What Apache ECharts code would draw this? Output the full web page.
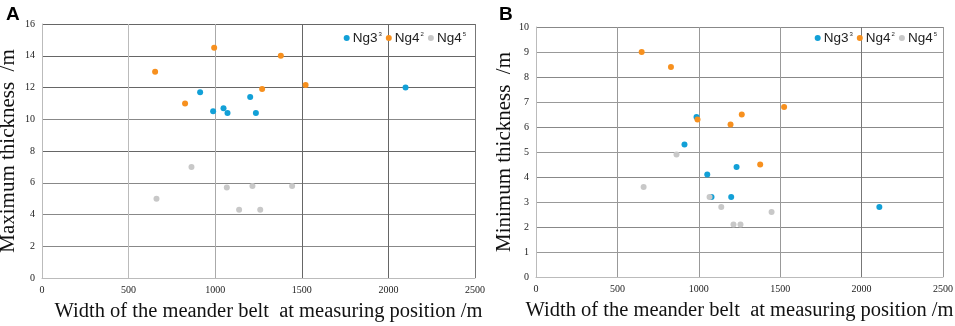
<!DOCTYPE html>
<html>
<head>
<meta charset="utf-8">
<script src="https://cdn.jsdelivr.net/npm/echarts@6/dist/echarts.min.js"></script>
<style>
html,body{margin:0;padding:0;background:#fff;}
#c{width:955px;height:326px;}
</style>
</head>
<body>
<div id="c"></div>
<script>
// ---- Data (width of meander belt /m, thickness /m) ----
var seriesNames = ['Ng3³', 'Ng4²', 'Ng4⁵'];

// Panel A: maximum thickness
var maxNg33 = [[913, 11.7], [988, 10.5], [1048, 10.7], [1071, 10.4], [1202, 11.4], [1235, 10.4], [2099, 12.0]];
var maxNg42 = [[653, 13.0], [826, 11.0], [994, 14.5], [1271, 11.9], [1379, 14.0], [1522, 12.15]];
var maxNg45 = [[661, 5.0], [863, 7.0], [1067, 5.7], [1138, 4.3], [1215, 5.8], [1260, 4.3], [1444, 5.8]];

// Panel B: minimum thickness
var minNg33 = [[986, 6.4], [912, 5.3], [1052, 4.1], [1078, 3.2], [1199, 3.2], [1232, 4.4], [2109, 2.8]];
var minNg42 = [[649, 9.0], [829, 8.4], [992, 6.3], [1195, 6.1], [1264, 6.5], [1377, 4.5], [1524, 6.8]];
var minNg45 = [[661, 3.6], [863, 4.9], [1066, 3.2], [1138, 2.8], [1213, 2.1], [1256, 2.1], [1447, 2.6]];

var xTicks = [0, 500, 1000, 1500, 2000, 2500];
var yTicksA = [0, 2, 4, 6, 8, 10, 12, 14, 16];
var yTicksB = [0, 1, 2, 3, 4, 5, 6, 7, 8, 9, 10];

var xTitle = 'Width of the meander belt  at measuring position /m';
var yTitleA = 'Maximum thickness  /m';
var yTitleB = 'Minimum thickness  /m';

var colors = ['#12a0d7', '#f7901e', '#c8c8c8'];

var chart = echarts.init(document.getElementById('c'), null, {renderer: 'canvas'});

var serif = '"Liberation Serif", "Times New Roman", serif';
var sans = '"Liberation Sans", Arial, sans-serif';

function xAxis(gi) {
  return {
    type: 'value', gridIndex: gi, min: xTicks[0], max: xTicks[xTicks.length - 1], interval: 500,
    name: xTitle, nameLocation: 'middle', nameGap: 23,
    nameTextStyle: {fontFamily: serif, fontSize: 20.5, color: '#111', padding: gi === 0 ? [0, 0, 0, 20] : [0, 0, 0, 0]},
    axisLine: {show: true, lineStyle: {color: '#bbbbbb', width: 1}},
    axisTick: {show: false},
    axisLabel: {fontFamily: serif, fontSize: 10, color: '#222', margin: 7, formatter: function (v) { return String(v); }},
    splitLine: {show: true, lineStyle: {color: gi === 0 ? ['#bbbbbb', '#bbbbbb', '#aaaaaa', '#666666', '#666666', '#777777'] : ['#bbbbbb', '#999999', '#999999', '#999999', '#777777', '#999999'], width: 1}}
  };
}
function yAxis(gi, max, interval, title, gap) {
  return {
    type: 'value', gridIndex: gi, min: 0, max: max, interval: interval,
    name: title, nameLocation: 'middle', nameGap: gap,
    nameTextStyle: {fontFamily: serif, fontSize: 21, color: '#111'},
    axisLine: {show: true, lineStyle: {color: '#bbbbbb', width: 1}},
    axisTick: {show: false},
    axisLabel: {fontFamily: serif, fontSize: 10, color: '#222', margin: 7},
    splitLine: {show: true, lineStyle: {color: gi === 0 ? ['#bbbbbb', '#888888', '#888888', '#888888', '#666666', '#888888', '#666666', '#666666', '#666666'] : ['#bbbbbb', '#999999', '#888888', '#999999', '#888888', '#999999', '#888888', '#999999', '#888888', '#999999', '#888888'], width: 1}}
  };
}

function sup(name) {
  var base = name.slice(0, -1), s = name.slice(-1);
  var map = {'³': '3', '²': '2', '⁵': '5'};
  return '{n|' + base + '}{s|' + (map[s] || s) + '}';
}

function legend(right) {
  return {
    data: seriesNames, right: right, top: 26, orient: 'horizontal',
    icon: 'circle', itemWidth: 6, itemHeight: 6, itemGap: 4,
    formatter: sup,
    textStyle: {
      fontFamily: sans, fontSize: 13.5, color: '#222', padding: [0, 0, 0, -2],
      rich: {
        n: {fontFamily: sans, fontSize: 13.5, color: '#222'},
        s: {fontFamily: sans, fontSize: 6, color: '#222', verticalAlign: 'top', padding: [0, 0, 6, 1]}
      }
    }
  };
}

function sc(name, xi, data, ci) {
  return {
    name: name, type: 'scatter', xAxisIndex: xi, yAxisIndex: xi, data: data,
    symbol: 'circle', symbolSize: 6, itemStyle: {color: colors[ci], opacity: 1},
    emphasis: {disabled: true}, z: 3
  };
}

chart.setOption({
  animation: false,
  backgroundColor: '#ffffff',
  title: [
    {text: 'A', left: 1, top: 0, textStyle: {fontFamily: sans, fontWeight: 'bold', fontSize: 19, color: '#000'}},
    {text: 'B', left: 494, top: 0, textStyle: {fontFamily: sans, fontWeight: 'bold', fontSize: 19, color: '#000'}}
  ],
  legend: [legend(484), legend(13)],
  grid: [
    {left: 42, right: 480, top: 24, bottom: 48, containLabel: false, outerBoundsMode: 'none'},
    {left: 536, right: 12, top: 27, bottom: 49, containLabel: false, outerBoundsMode: 'none'}
  ],
  xAxis: [xAxis(0), xAxis(1)],
  yAxis: [yAxis(0, 16, 2, yTitleA, 23), yAxis(1, 10, 1, yTitleB, 19)],
  series: [
    sc(seriesNames[0], 0, maxNg33, 0),
    sc(seriesNames[1], 0, maxNg42, 1),
    sc(seriesNames[2], 0, maxNg45, 2),
    sc(seriesNames[0], 1, minNg33, 0),
    sc(seriesNames[1], 1, minNg42, 1),
    sc(seriesNames[2], 1, minNg45, 2)
  ]
});
</script>
</body>
</html>
